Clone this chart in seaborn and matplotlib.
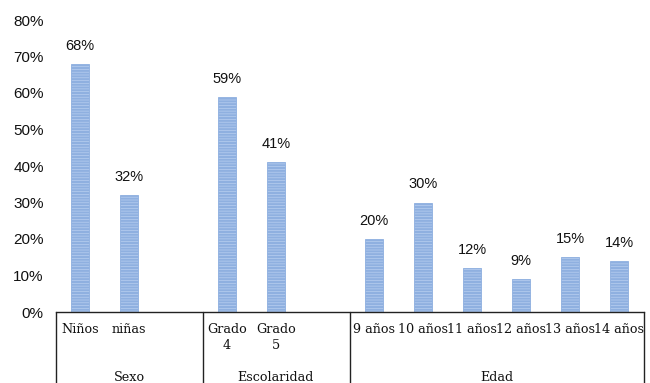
import matplotlib
matplotlib.use("Agg")
import matplotlib.pyplot as plt
import matplotlib.transforms as mtransforms
import seaborn as sns
import pandas as pd

# Survey breakdown (% of respondents)
categories = ["Niños", "niñas", "Grado 4", "Grado 5",
              "9 años", "10 años", "11 años", "12 años", "13 años", "14 años"]
values = [68, 32, 59, 41, 20, 30, 12, 9, 15, 14]
tick_labels = ["Niños", "niñas", "", "Grado\n4", "Grado\n5", "",
               "9 años", "10 años", "11 años", "12 años", "13 años", "14 años"]
groups = ["Sexo", "Escolaridad", "Edad"]
y_ticks = [0, 10, 20, 30, 40, 50, 60, 70, 80]

# slot order with empty gaps between groups
order = ["Niños", "niñas", "gap_a", "Grado 4", "Grado 5", "gap_b",
         "9 años", "10 años", "11 años", "12 años", "13 años", "14 años"]
group_bounds = [(-0.5, 2.5), (2.5, 5.5), (5.5, 11.5)]

df = pd.DataFrame({"categoria": categories, "valor": values})

sns.set_theme(style="white")
plt.rcParams["hatch.linewidth"] = 1.5
plt.rcParams["hatch.color"] = "#6e98d4"

fig = plt.figure(figsize=(6.5, 3.83), dpi=100)
ax = fig.add_axes([55.5 / 650, 1 - 312 / 383, 588 / 650, 292 / 383])

sns.barplot(data=df, x="categoria", y="valor", order=order, ax=ax,
            color="#b9cff0", width=0.37, saturation=1, errorbar=None,
            edgecolor="#8fb0e0", linewidth=0.6, hatch="------")

sans = ["Liberation Sans", "DejaVu Sans"]
serif = ["DejaVu Serif"]

for bar in ax.patches:
    h = bar.get_height()
    if h > 0:
        ax.annotate(f"{h:.0f}%", (bar.get_x() + bar.get_width() / 2, h),
                    xytext=(0, 8), textcoords="offset points",
                    ha="center", va="bottom", fontsize=10.5, family=sans,
                    color="#111111")

ax.set_ylim(0, 80)
ax.set_xlim(-0.5, 11.5)
ax.set_yticks(y_ticks)
ax.set_yticklabels([f"{t}%" for t in y_ticks], family=sans, fontsize=11,
                   color="#111111")
ax.set_xticks(range(len(order)))
ax.set_xticklabels(tick_labels, family=serif, fontsize=9.2, color="#111111",
                   linespacing=1.25, va="top")
ax.tick_params(axis="x", length=0, pad=8)
ax.tick_params(axis="y", length=0, pad=8.5)
ax.set_xlabel("")
ax.set_ylabel("")
for side in ["top", "right", "left"]:
    ax.spines[side].set_visible(False)
ax.spines["bottom"].set_color("#222222")
ax.spines["bottom"].set_linewidth(1.0)

# group boxes beneath the category axis
trans = mtransforms.blended_transform_factory(ax.transData, ax.transAxes)
edges = sorted({b for pair in group_bounds for b in pair})
for x in edges:
    ax.plot([x, x], [0, -0.3], transform=trans, color="#222222",
            lw=1.0, clip_on=False)
for (x0, x1), name in zip(group_bounds, groups):
    ax.text((x0 + x1) / 2, -0.225, name, transform=trans, ha="center",
            va="center", family=serif, fontsize=9.2, color="#111111")

fig.savefig("out.png", dpi=100)
